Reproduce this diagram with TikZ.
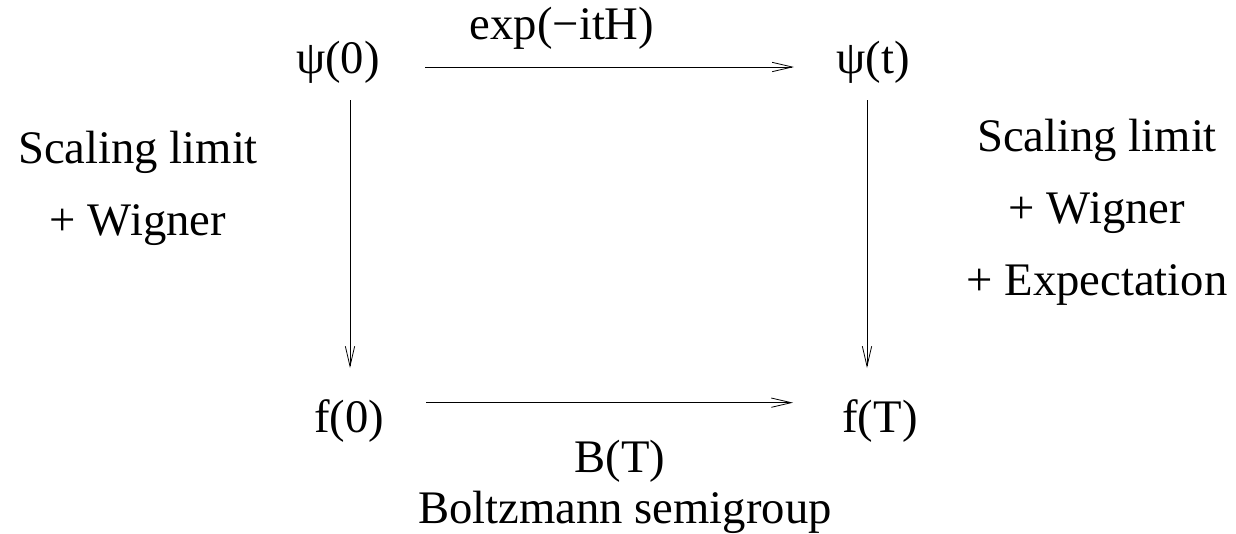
\documentclass[tikz,border=0pt]{standalone}
\usepackage{fontspec}
\setmainfont{Liberation Serif}
\usetikzlibrary{arrows.meta}

\begin{document}
\begin{tikzpicture}[x=0.75pt, y=-0.75pt, line width=0.6pt, >={Straight Barb[length=15pt,width=7pt]},
    font=\fontsize{35}{54}\selectfont]
    \useasboundingbox (0,0) rectangle (1236,533);
    \tikzset{state/.style={inner sep=0pt, anchor=base},
             caption/.style={inner sep=0pt, anchor=base, align=center}}

    % corners of the square
    \node (PsiZero) [state] at (338,73) {ψ(0)};
    \node (PsiT) [state] at (873,73) {ψ(t)};
    \node (FZero) [state] at (349,432) {f(0)};
    \node (FT) [state] at (880,432) {f(T)};

    % labels
    \node (Propagator) [caption] at (562,39) {exp(−itH)};
    \node (Semigroup) [caption] at (620,472) {B(T)};
    \node (BoltzmannName) [caption] at (625,523) {Boltzmann semigroup};
    \node (LeftLimit) [caption] at (138,235) {Scaling limit\\+ Wigner};
    \node (RightLimit) [caption] at (1097,295) {Scaling limit\\+ Wigner\\+ Expectation};

    \draw[->] ([xshift=33.75pt,yshift=4.5pt]PsiZero.base east) -- ([xshift=-31.5pt,yshift=4.5pt]PsiT.base west);
    \draw[->] ([xshift=31.5pt,yshift=22pt]FZero.base east) -- ([xshift=-36.75pt,yshift=22pt]FT.base west);
    \draw[->] ([xshift=9pt,yshift=-20.25pt]PsiZero.base) -- ([xshift=0.75pt,yshift=48pt]FZero.base);
    \draw[->] ([xshift=-4.5pt,yshift=-20.25pt]PsiT.base) -- ([xshift=-9.75pt,yshift=48pt]FT.base);
\end{tikzpicture}
\end{document}
